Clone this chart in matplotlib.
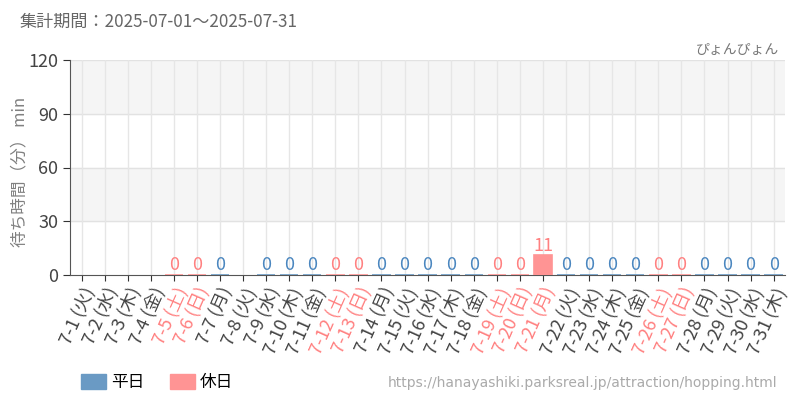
import matplotlib
matplotlib.use('Agg')
import matplotlib.pyplot as plt
from matplotlib.patches import Patch

plt.rcParams['font.family'] = ['Noto Sans CJK JP', 'DejaVu Sans']

days = [f'7-{d}' for d in range(1, 32)]
weekdays = ['火', '水', '木', '金', '土', '日', '月'] * 5
weekdays = weekdays[:31]
# None = no data for that day
waits = [None, None, None, None, 0, 0, 0, None, 0, 0,
         0, 0, 0, 0, 0, 0, 0, 0, 0, 0,
         11, 0, 0, 0, 0, 0, 0, 0, 0, 0,
         0]
holidays = ['7-5', '7-6', '7-12', '7-13', '7-19', '7-20', '7-21', '7-26', '7-27']

c_week = '#6a9ac4'
c_week_txt = '#4a86bf'
c_hol = '#ff9494'
c_hol_txt = '#ff8080'

fig = plt.figure(figsize=(8, 4), dpi=100)
ax = fig.add_axes([0.0875, 0.3125, 0.894, 0.5375])

x = list(range(len(days)))
ax.axhspan(90, 120, color='#f5f5f5', zorder=0)
ax.axhspan(30, 60, color='#f5f5f5', zorder=0)
for yv in [30, 60, 90, 120]:
    ax.axhline(yv, color='#e2e2e2', lw=1, zorder=1)
for xi in x:
    ax.axvline(xi, color='#e6e6e6', lw=1, zorder=1)

for xi, d, v in zip(x, days, waits):
    if v is None:
        continue
    hol = d in holidays
    col = c_hol if hol else c_week
    ax.bar(xi, v, width=0.8, color=col, edgecolor=col, lw=1.2, zorder=3)
    ax.text(xi, v + 0.3, str(v), ha='center', va='bottom', fontsize=13,
            color=c_hol_txt if hol else c_week_txt, zorder=4)

ax.set_xlim(-0.5, 30.5)
ax.set_ylim(0, 120)
ax.set_yticks([0, 30, 60, 90, 120])
ax.set_xticks(x)
ax.set_xticklabels([f'{d} ({w})' for d, w in zip(days, weekdays)],
                   rotation=66, ha='right', rotation_mode='anchor', fontsize=13)
for lab, d in zip(ax.get_xticklabels(), days):
    lab.set_color(c_hol_txt if d in holidays else '#444444')
ax.tick_params(axis='y', labelsize=13, labelcolor='#444444', length=5, color='#333333')
ax.tick_params(axis='x', length=4, color='#333333', pad=3)
for s in ['top', 'right']:
    ax.spines[s].set_visible(False)
ax.spines['left'].set_color('#555555')
ax.spines['bottom'].set_color('#555555')
ax.set_ylabel('待ち時間（分） min', fontsize=12, color='#808080')
ax.yaxis.set_label_coords(-0.058, 0.48)

fig.text(0.025, 0.945, '集計期間：2025-07-01～2025-07-31', fontsize=12.3,
         color='#666666', va='center')
fig.text(0.974, 0.875, 'ぴょんぴょん', fontsize=10, color='#777777',
         ha='right', va='center')
fig.text(0.972, 0.043, 'https://hanayashiki.parksreal.jp/attraction/hopping.html',
         fontsize=10, color='#aaaaaa', ha='right', va='center',
         family=['Liberation Sans Narrow', 'DejaVu Sans'])

handles = [Patch(color=c_week, label='平日'), Patch(color=c_hol, label='休日')]
fig.legend(handles=handles, loc='center left', bbox_to_anchor=(0.083, 0.043),
           ncol=2, frameon=False, fontsize=12, handlelength=1.5, handleheight=1.0,
           handletextpad=0.3, columnspacing=1.5)

fig.savefig('out.png', dpi=100)
